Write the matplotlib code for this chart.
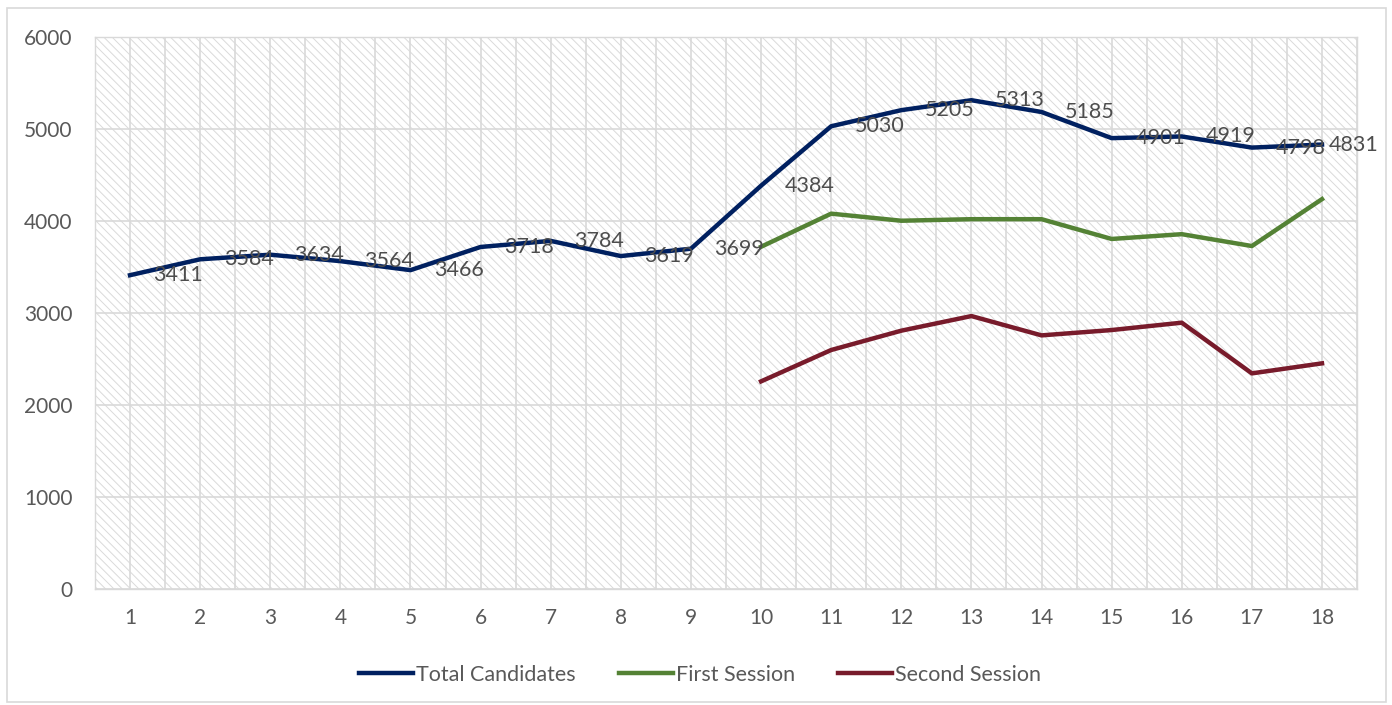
import matplotlib
matplotlib.use("Agg")
import matplotlib.pyplot as plt
from matplotlib.patches import Rectangle

# ---------------------------------------------------------------------------
# Data
# ---------------------------------------------------------------------------
sessions = list(range(1, 19))
total_candidates = [3411, 3584, 3634, 3564, 3466, 3718, 3784, 3619, 3699,
                    4384, 5030, 5205, 5313, 5185, 4901, 4919, 4798, 4831]
first_x = list(range(10, 19))
first_session = [3720, 4080, 4003, 4020, 4020, 3805, 3857, 3728, 4238]
second_session = [2257, 2598, 2808, 2967, 2757, 2815, 2895, 2344, 2453]
y_ticks = [0, 1000, 2000, 3000, 4000, 5000, 6000]

# ---------------------------------------------------------------------------
# Style
# ---------------------------------------------------------------------------
NAVY = "#002060"
GREEN = "#548235"
MAROON = "#781b2b"
TEXT = "#595959"
LABEL = "#4d4d4d"
GRID = "#d9d9d9"

plt.rcParams.update({
    "font.family": ["Lato", "DejaVu Sans"],
    "hatch.linewidth": 0.7,
})

fig = plt.figure(figsize=(13.92, 7.05), dpi=100)
ax = fig.add_axes([0.0682, 0.1645, 0.9067, 0.783])

# hatched plot area
ax.patch.set_facecolor("white")
ax.add_patch(Rectangle((0, 0), 1, 1, transform=ax.transAxes, facecolor="white",
                       edgecolor="#dadada", hatch="\\" * 4, lw=0, zorder=0))

# grid: horizontal at every 1000, vertical at every half category
for y in y_ticks:
    ax.axhline(y, color=GRID, lw=1.2, zorder=1)
for k in range(0, 37):
    ax.axvline(0.5 + k * 0.5, color=GRID, lw=1.2, zorder=1)

ax.plot(sessions, total_candidates, color=NAVY, lw=3.2, label="Total Candidates",
        zorder=3, solid_joinstyle="round")
ax.plot(first_x, first_session, color=GREEN, lw=3.2, label="First Session",
        zorder=3, solid_joinstyle="round")
ax.plot(first_x, second_session, color=MAROON, lw=3.2, label="Second Session",
        zorder=3, solid_joinstyle="round")

# data labels sit to the right of each point; the last one is nudged in
for i, (x, v) in enumerate(zip(sessions, total_candidates)):
    dx = 5 if i == len(sessions) - 1 else 17
    ax.annotate(str(v), (x, v), xytext=(dx, 0), textcoords="offset points",
                ha="left", va="center", fontsize=15.5, color=LABEL, zorder=4)

ax.set_xlim(0.5, 18.5)
ax.set_ylim(0, 6000)
ax.set_xticks(sessions)
ax.set_yticks(y_ticks)
ax.tick_params(axis="both", length=0, labelsize=15, labelcolor=TEXT)
ax.tick_params(axis="x", pad=14)
ax.tick_params(axis="y", pad=16)
for s in ax.spines.values():
    s.set_color(GRID)
    s.set_linewidth(1.0)

fig.legend(loc="center", bbox_to_anchor=(0.503, 0.043), ncol=3, frameon=False,
           fontsize=15.5, labelcolor=TEXT, handlelength=2.5, handletextpad=0.15,
           columnspacing=2.0)

# outer chart border
fig.add_artist(Rectangle((0.005, 0.004), 0.991, 0.985, transform=fig.transFigure,
                         fill=False, edgecolor="#d9d9d9", lw=1.2))

fig.savefig("out.png", dpi=100)
